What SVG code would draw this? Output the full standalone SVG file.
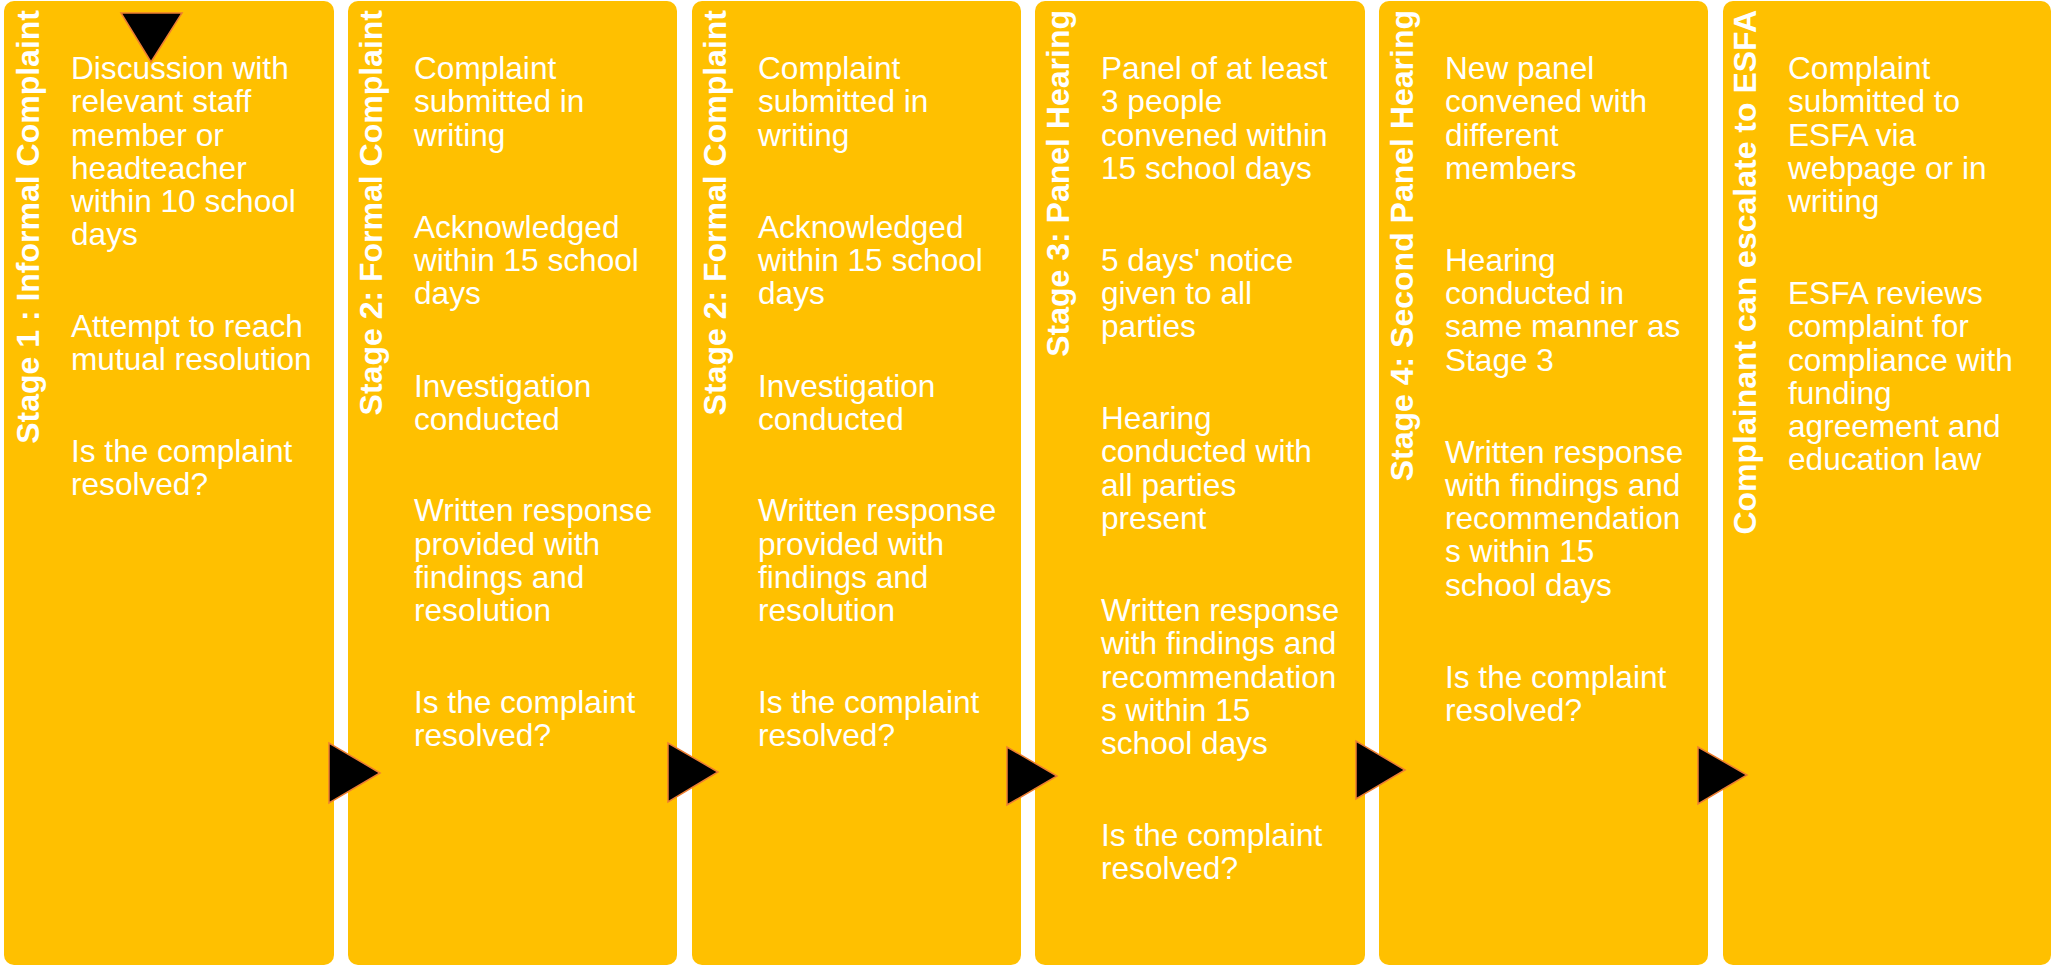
<svg xmlns="http://www.w3.org/2000/svg" width="2054" height="966" viewBox="0 0 2054 966">
<style>
.panel{fill:#FFC000;}
.title{font-family:"Liberation Sans",Arial,sans-serif;font-weight:bold;font-size:32px;fill:#FFFFFF;text-anchor:end;}
.body{font-family:"Liberation Sans",Arial,sans-serif;font-size:31.6px;fill:#FFFFFF;}
.arrow{fill:#000000;stroke:#ED7D31;stroke-width:1.5;stroke-linejoin:miter;}
</style>
<rect width="2054" height="966" fill="#FFFFFF"/>
<g id="stage1">
<rect class="panel" x="4" y="1" width="330" height="964" rx="10"/>
<text class="title" transform="translate(39,10) rotate(-90)">Stage 1 : Informal Complaint</text>
<text class="body">
<tspan x="71" y="79">Discussion with</tspan>
<tspan x="71" y="112">relevant staff</tspan>
<tspan x="71" y="146">member or</tspan>
<tspan x="71" y="179">headteacher</tspan>
<tspan x="71" y="212">within 10 school</tspan>
<tspan x="71" y="245">days</tspan>
<tspan x="71" y="337">Attempt to reach</tspan>
<tspan x="71" y="370">mutual resolution</tspan>
<tspan x="71" y="462">Is the complaint</tspan>
<tspan x="71" y="495">resolved?</tspan>
</text>
</g>
<g id="stage2a">
<rect class="panel" x="348" y="1" width="329" height="964" rx="10"/>
<text class="title" transform="translate(382,10) rotate(-90)">Stage 2: Formal Complaint</text>
<text class="body">
<tspan x="414" y="79">Complaint</tspan>
<tspan x="414" y="112">submitted in</tspan>
<tspan x="414" y="146">writing</tspan>
<tspan x="414" y="238">Acknowledged</tspan>
<tspan x="414" y="271">within 15 school</tspan>
<tspan x="414" y="304">days</tspan>
<tspan x="414" y="397">Investigation</tspan>
<tspan x="414" y="430">conducted</tspan>
<tspan x="414" y="521">Written response</tspan>
<tspan x="414" y="555">provided with</tspan>
<tspan x="414" y="588">findings and</tspan>
<tspan x="414" y="621">resolution</tspan>
<tspan x="414" y="713">Is the complaint</tspan>
<tspan x="414" y="746">resolved?</tspan>
</text>
</g>
<g id="stage2b">
<rect class="panel" x="692" y="1" width="329" height="964" rx="10"/>
<text class="title" transform="translate(726,10) rotate(-90)">Stage 2: Formal Complaint</text>
<text class="body">
<tspan x="758" y="79">Complaint</tspan>
<tspan x="758" y="112">submitted in</tspan>
<tspan x="758" y="146">writing</tspan>
<tspan x="758" y="238">Acknowledged</tspan>
<tspan x="758" y="271">within 15 school</tspan>
<tspan x="758" y="304">days</tspan>
<tspan x="758" y="397">Investigation</tspan>
<tspan x="758" y="430">conducted</tspan>
<tspan x="758" y="521">Written response</tspan>
<tspan x="758" y="555">provided with</tspan>
<tspan x="758" y="588">findings and</tspan>
<tspan x="758" y="621">resolution</tspan>
<tspan x="758" y="713">Is the complaint</tspan>
<tspan x="758" y="746">resolved?</tspan>
</text>
</g>
<g id="stage3">
<rect class="panel" x="1035" y="1" width="330" height="964" rx="10"/>
<text class="title" transform="translate(1069,10) rotate(-90)">Stage 3: Panel Hearing</text>
<text class="body">
<tspan x="1101" y="79">Panel of at least</tspan>
<tspan x="1101" y="112">3 people</tspan>
<tspan x="1101" y="146">convened within</tspan>
<tspan x="1101" y="179">15 school days</tspan>
<tspan x="1101" y="271">5 days' notice</tspan>
<tspan x="1101" y="304">given to all</tspan>
<tspan x="1101" y="337">parties</tspan>
<tspan x="1101" y="429">Hearing</tspan>
<tspan x="1101" y="462">conducted with</tspan>
<tspan x="1101" y="496">all parties</tspan>
<tspan x="1101" y="529">present</tspan>
<tspan x="1101" y="621">Written response</tspan>
<tspan x="1101" y="654">with findings and</tspan>
<tspan x="1101" y="688">recommendation</tspan>
<tspan x="1101" y="721">s within 15</tspan>
<tspan x="1101" y="754">school days</tspan>
<tspan x="1101" y="846">Is the complaint</tspan>
<tspan x="1101" y="879">resolved?</tspan>
</text>
</g>
<g id="stage4">
<rect class="panel" x="1379" y="1" width="329" height="964" rx="10"/>
<text class="title" transform="translate(1413,10) rotate(-90)">Stage 4: Second Panel Hearing</text>
<text class="body">
<tspan x="1445" y="79">New panel</tspan>
<tspan x="1445" y="112">convened with</tspan>
<tspan x="1445" y="146">different</tspan>
<tspan x="1445" y="179">members</tspan>
<tspan x="1445" y="271">Hearing</tspan>
<tspan x="1445" y="304">conducted in</tspan>
<tspan x="1445" y="337">same manner as</tspan>
<tspan x="1445" y="371">Stage 3</tspan>
<tspan x="1445" y="463">Written response</tspan>
<tspan x="1445" y="496">with findings and</tspan>
<tspan x="1445" y="529">recommendation</tspan>
<tspan x="1445" y="562">s within 15</tspan>
<tspan x="1445" y="596">school days</tspan>
<tspan x="1445" y="688">Is the complaint</tspan>
<tspan x="1445" y="721">resolved?</tspan>
</text>
</g>
<g id="esfa">
<rect class="panel" x="1723" y="1" width="328" height="964" rx="10"/>
<text class="title" transform="translate(1756,10) rotate(-90)">Complainant can escalate to ESFA</text>
<text class="body">
<tspan x="1788" y="79">Complaint</tspan>
<tspan x="1788" y="112">submitted to</tspan>
<tspan x="1788" y="146">ESFA via</tspan>
<tspan x="1788" y="179">webpage or in</tspan>
<tspan x="1788" y="212">writing</tspan>
<tspan x="1788" y="304">ESFA reviews</tspan>
<tspan x="1788" y="337">complaint for</tspan>
<tspan x="1788" y="371">compliance with</tspan>
<tspan x="1788" y="404">funding</tspan>
<tspan x="1788" y="437">agreement and</tspan>
<tspan x="1788" y="470">education law</tspan>
</text>
</g>
<g id="connectors">
<polygon class="arrow" points="121,13 182,13 151,62"/>
<polygon class="arrow" points="329,743 329,803 380,773"/>
<polygon class="arrow" points="668,743 668,802 718,772"/>
<polygon class="arrow" points="1007,747 1007,805 1057,776"/>
<polygon class="arrow" points="1356,741 1356,799 1405,770"/>
<polygon class="arrow" points="1698,747 1698,804 1747,775"/>
</g>
</svg>
